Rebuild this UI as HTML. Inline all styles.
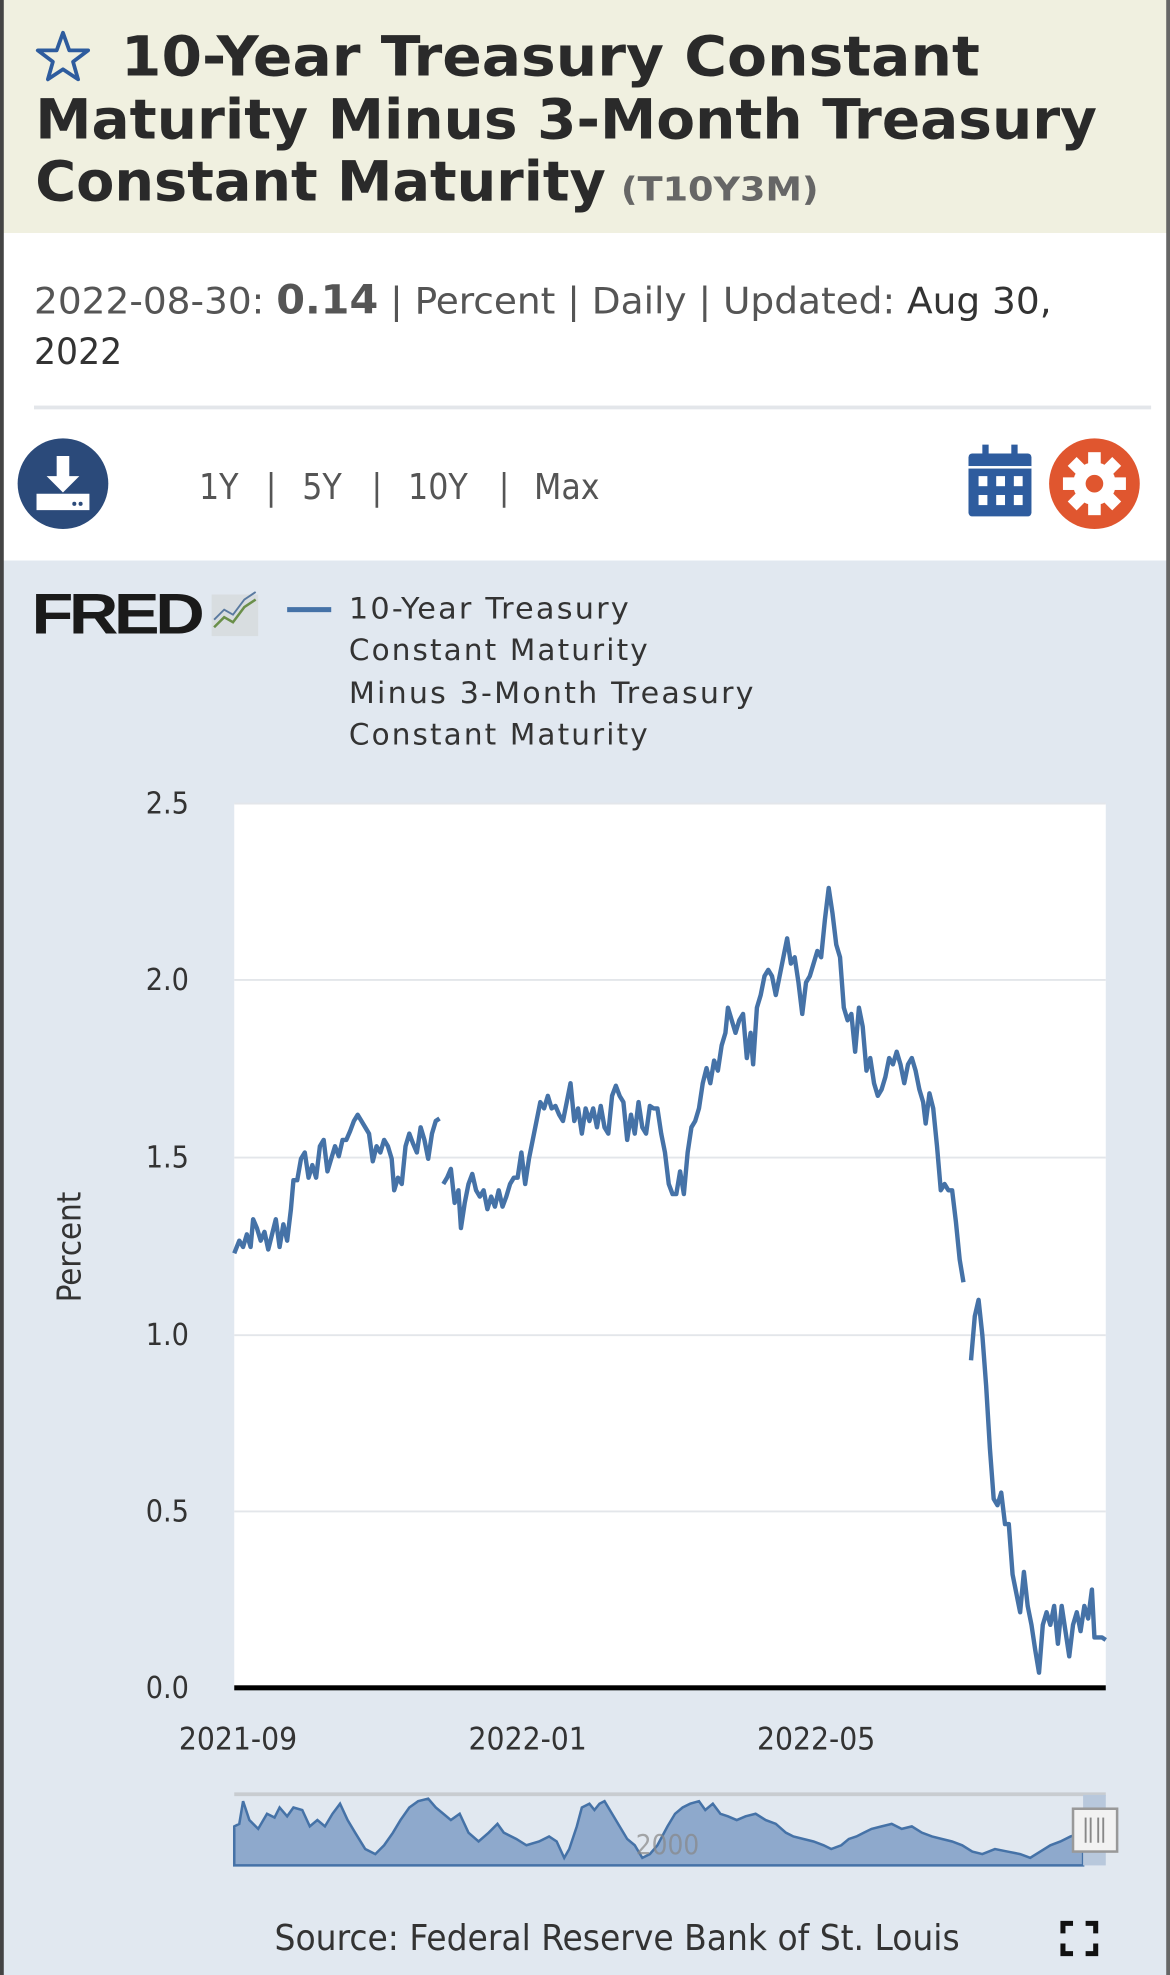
<!DOCTYPE html>
<html><head><meta charset="utf-8"><style>
html,body{margin:0;padding:0;width:1170px;height:1975px;overflow:hidden;background:#fff}
svg{display:block}
text{font-family:"DejaVu Sans Condensed","Liberation Sans",sans-serif}
</style></head><body>
<svg width="1170" height="1975" viewBox="0 0 929 1568" preserveAspectRatio="none" xmlns="http://www.w3.org/2000/svg">
<rect x="0" y="0" width="929" height="185" fill="#f0f0e0"/>
<rect x="0" y="185" width="929" height="260" fill="#ffffff"/>
<rect x="0" y="445" width="929" height="1123" fill="#e1e8f0"/>
<rect x="0" y="0" width="3" height="1568" fill="#444"/>
<rect x="926" y="0" width="3" height="1568" fill="#666"/>
<polygon points="50,26 55,40 70,40 58,49 62,63 50,55 38,63 42,49 30,40 45,40" fill="none" stroke="#2e5c9e" stroke-width="3" stroke-linejoin="round"/>
<g font-weight="bold" fill="#2a2a2a" font-size="44">
<text x="96" y="60" textLength="682" lengthAdjust="spacingAndGlyphs">10-Year Treasury Constant</text>
<text x="28" y="110" textLength="843" lengthAdjust="spacingAndGlyphs">Maturity Minus 3-Month Treasury</text>
<text x="28" y="159" textLength="453" lengthAdjust="spacingAndGlyphs">Constant Maturity</text>
</g>
<text x="493" y="159" font-size="26" font-weight="bold" fill="#666" textLength="157" lengthAdjust="spacingAndGlyphs">(T10Y3M)</text>
<text x="27" y="249" font-size="29" fill="#555" textLength="808" lengthAdjust="spacingAndGlyphs"><tspan>2022-08-30: </tspan><tspan font-weight="bold" font-size="32">0.14</tspan><tspan> | Percent | Daily | Updated: </tspan><tspan fill="#333">Aug 30,</tspan></text>
<text x="27" y="289" font-size="29" fill="#333" textLength="70" lengthAdjust="spacingAndGlyphs">2022</text>
<rect x="27" y="322" width="887" height="3" fill="#e3e6ea"/>
<circle cx="50" cy="384" r="36" fill="#2b4a7a"/>
<path d="M45 362h10v16h8l-13 13-13-13h8z" fill="#fff"/>
<path d="M29 392v13h42v-13" fill="#fff"/>
<circle cx="59" cy="400" r="1.6" fill="#2b4a7a"/><circle cx="64" cy="400" r="1.6" fill="#2b4a7a"/>
<g font-size="28" fill="#555">
<text x="158" y="396">1Y</text><text x="211" y="396">|</text><text x="240" y="396">5Y</text><text x="295" y="396">|</text><text x="324" y="396">10Y</text><text x="396" y="396">|</text><text x="424" y="396">Max</text>
</g>
<rect x="769" y="360" width="50" height="50" rx="3" fill="#2e5c9e"/>
<rect x="780" y="353" width="5" height="12" fill="#2e5c9e"/><rect x="803" y="353" width="5" height="12" fill="#2e5c9e"/>
<rect x="769" y="370" width="50" height="2" fill="#fff"/>
<g fill="#fff"><rect x="777" y="378" width="7" height="8"/><rect x="791" y="378" width="7" height="8"/><rect x="805" y="378" width="7" height="8"/><rect x="777" y="393" width="7" height="8"/><rect x="791" y="393" width="7" height="8"/><rect x="805" y="393" width="7" height="8"/></g>
<circle cx="869" cy="384" r="36" fill="#e0562f"/>
<g fill="#fff" transform="translate(869,384)">
<circle r="17"/>
<g><rect x="-5" y="-25" width="10" height="50"/><rect x="-5" y="-25" width="10" height="50" transform="rotate(45)"/><rect x="-5" y="-25" width="10" height="50" transform="rotate(90)"/><rect x="-5" y="-25" width="10" height="50" transform="rotate(135)"/></g>
</g>
<circle cx="869" cy="384" r="7" fill="#e0562f"/>
<text x="25" y="503" style="font-family:'Liberation Sans',sans-serif;font-weight:bold;letter-spacing:-3px" font-size="46" fill="#1a1a1a" textLength="134" lengthAdjust="spacingAndGlyphs">FRED</text>
<rect x="168" y="472" width="37" height="33" fill="#d8dde0"/>
<polyline points="170,498 178,490 185,494 194,482 203,476" fill="none" stroke="#6a8f4a" stroke-width="2"/>
<polyline points="170,492 178,484 185,488 194,476 203,470" fill="none" stroke="#5a7aa0" stroke-width="1.5"/>
<rect x="228" y="482" width="35" height="4" fill="#4572a7"/>
<g font-size="23" fill="#333" letter-spacing="1.5">
<text x="277" y="491" textLength="224" lengthAdjust="spacingAndGlyphs">10-Year Treasury</text>
<text x="277" y="524" textLength="239" lengthAdjust="spacingAndGlyphs">Constant Maturity</text>
<text x="277" y="558" textLength="323" lengthAdjust="spacingAndGlyphs">Minus 3-Month Treasury</text>
<text x="277" y="591" textLength="239" lengthAdjust="spacingAndGlyphs">Constant Maturity</text>
</g>
<rect x="186" y="638" width="692" height="702" fill="#fff"/>
<g stroke="#e3e6ea" stroke-width="1.5">
<line x1="186" y1="638" x2="878" y2="638"/><line x1="186" y1="778" x2="878" y2="778"/><line x1="186" y1="919" x2="878" y2="919"/><line x1="186" y1="1060" x2="878" y2="1060"/><line x1="186" y1="1200" x2="878" y2="1200"/>
</g>
<g font-size="24" fill="#333" text-anchor="end">
<text x="150" y="646">2.5</text><text x="150" y="786">2.0</text><text x="150" y="927">1.5</text><text x="150" y="1068">1.0</text><text x="150" y="1208">0.5</text><text x="150" y="1348">0.0</text>
</g>
<text transform="translate(64,990) rotate(-90)" font-size="26" fill="#333" text-anchor="middle">Percent</text>
<rect x="186" y="1338" width="692" height="4" fill="#000"/>
<g font-size="25" fill="#333" text-anchor="middle">
<text x="189" y="1389">2021-09</text><text x="419" y="1389">2022-01</text><text x="648" y="1389">2022-05</text>
</g>
<g fill="none" stroke="#4572a7" stroke-width="3.5" stroke-linejoin="round">
<polyline points="186,995 190,985 193,990 196,980 199,990 201,968 204,975 207,985 210,978 213,992 216,980 219,968 222,990 225,972 228,985 231,960 233,937 236,937 239,920 242,915 245,935 248,925 251,935 254,910 257,905 260,930 263,920 266,910 269,918 272,905 275,905 278,898 281,890 284,885 287,890 290,895 293,900 296,922 299,910 302,915 305,905 308,910 311,920 313,945 316,935 319,940 322,910 325,900 328,908 331,915 334,895 337,905 340,920 343,900 346,890 349,888"/>
<polyline points="352,940 355,935 358,928 361,955 364,945 366,975 369,955 372,940 375,932 378,945 381,950 384,945 387,960 390,950 393,958 396,945 399,958 402,950 405,940 408,935 411,935 414,915 417,940 420,920 423,905 426,890 429,875 432,880 435,870 438,880 441,878 444,885 447,890 450,875 453,860 456,890 459,880 462,900 465,880 468,890 471,880 474,895 477,878 480,895 483,900 486,870 489,862 492,870 495,875 498,905 501,885 504,900 507,875 510,895 513,900 516,878 519,880 522,880 525,900 528,915 531,940 534,948 537,948 540,930 543,948 546,915 549,895 552,890 555,880 558,860 561,848 564,860 567,842 570,850 573,830 576,820 578,800 581,810 584,820 587,810 590,805 593,840 596,820 598,845 601,800 604,790 607,775 610,770 613,775 616,790 619,775 622,760 625,745 628,765 631,760 634,780 637,805 640,780 643,775 646,765 649,755 652,760 655,730 658,705 661,725 664,750 667,760 670,800 673,810 676,805 679,835 682,800 685,815 688,850 691,840 694,860 697,870 700,865 703,855 706,840 709,845 712,835 715,845 718,860 721,845 724,840 727,850 730,865 733,875 735,892 738,868 741,880 744,910 747,945 750,940 753,945 756,945 759,970 762,1000 765,1018"/>
<polyline points="771,1080 774,1045 777,1032 780,1060 783,1100 786,1150 789,1190 792,1195 795,1185 798,1210 801,1210 804,1250 807,1265 810,1280 813,1248 816,1275 819,1290 822,1310 825,1328 828,1290 831,1280 834,1290 837,1275 840,1305 843,1275 846,1295 849,1315 852,1290 855,1280 858,1295 861,1275 864,1285 867,1262 869,1300 872,1300 875,1300 878,1302"/>
</g>
<rect x="186" y="1423" width="692" height="3" fill="#c8ccd0"/>
<path d="M186,1481 L186,1450 L190,1448 L193,1430 L198,1445 L205,1452 L212,1440 L218,1443 L222,1435 L228,1442 L233,1435 L240,1437 L246,1450 L252,1445 L258,1450 L264,1440 L270,1432 L276,1445 L282,1455 L290,1468 L298,1472 L305,1465 L312,1455 L318,1445 L325,1435 L332,1430 L340,1428 L346,1435 L352,1440 L358,1445 L365,1440 L372,1455 L380,1462 L388,1455 L395,1448 L400,1455 L410,1460 L418,1465 L428,1462 L436,1458 L442,1462 L448,1475 L452,1468 L458,1450 L462,1435 L468,1432 L472,1437 L476,1432 L480,1430 L486,1440 L492,1450 L498,1460 L504,1465 L510,1475 L516,1472 L522,1465 L530,1450 L536,1440 L542,1435 L548,1432 L555,1430 L560,1437 L566,1432 L572,1440 L578,1442 L585,1445 L592,1442 L600,1440 L608,1445 L616,1448 L624,1455 L630,1458 L638,1460 L646,1462 L654,1465 L660,1468 L668,1465 L674,1460 L680,1458 L686,1455 L692,1452 L700,1450 L708,1448 L716,1452 L724,1450 L732,1455 L740,1458 L748,1460 L756,1462 L764,1465 L772,1470 L780,1472 L790,1468 L800,1470 L810,1472 L818,1475 L826,1470 L834,1465 L842,1462 L850,1458 L860,1455 L860,1481 Z" fill="#8ea9cc" stroke="#4572a7" stroke-width="2"/>
<rect x="860" y="1425" width="18" height="56" fill="#b8c8dc"/>
<text x="530" y="1472" font-size="22" fill="#888" text-anchor="middle" opacity="0.7">2000</text>
<rect x="852" y="1436" width="35" height="34" fill="#f2f2f2" stroke="#999" stroke-width="2"/>
<g stroke="#888" stroke-width="1.5"><line x1="862" y1="1443" x2="862" y2="1463"/><line x1="866" y1="1443" x2="866" y2="1463"/><line x1="872" y1="1443" x2="872" y2="1463"/><line x1="876" y1="1443" x2="876" y2="1463"/></g>
<text x="218" y="1548" font-size="28" fill="#333" textLength="544" lengthAdjust="spacingAndGlyphs">Source: Federal Reserve Bank of St. Louis</text>
<g stroke="#111" stroke-width="4" fill="none">
<path d="M844,1535 v-8 h8"/><path d="M862,1527 h8 v8"/><path d="M844,1543 v8 h8"/><path d="M862,1551 h8 v-8"/>
</g>
</svg>
</body></html>
